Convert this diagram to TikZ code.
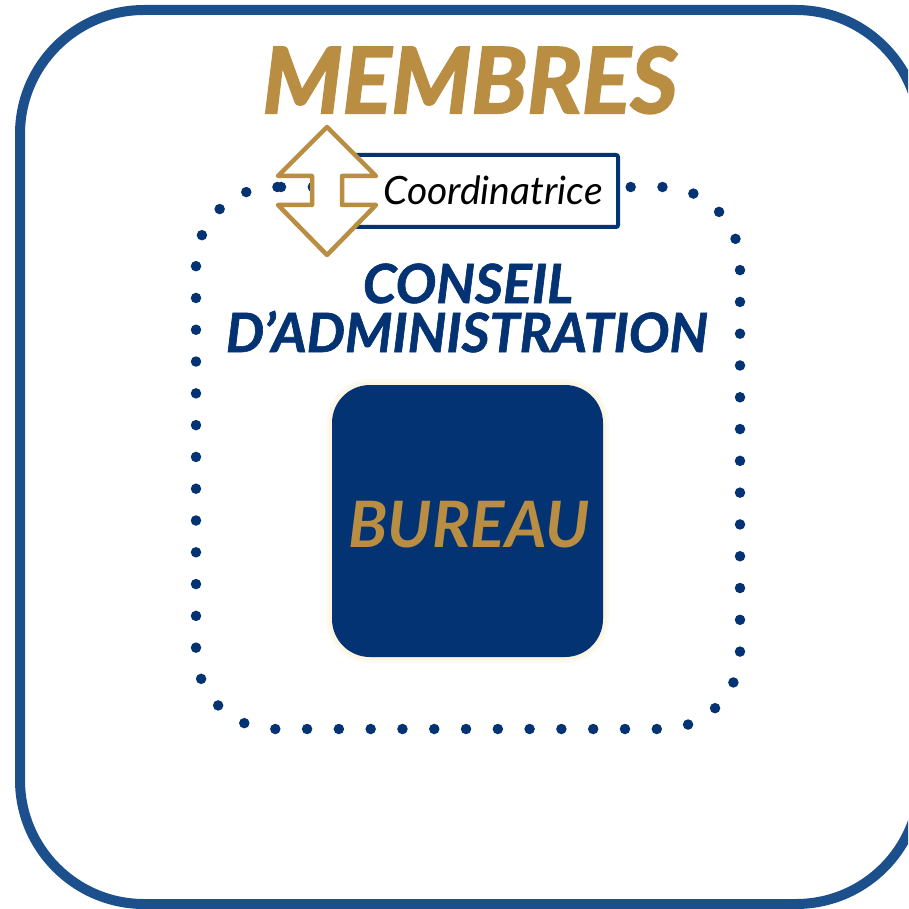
\documentclass[tikz,border=0pt]{standalone}
\usepackage{fontspec}
\setmainfont{Lato}
\newfontfamily\heavyfont{Lato}[FakeBold=2.2]
\newfontfamily\midheavyfont{Lato}[FakeBold=1.2]
\definecolor{gold}{RGB}{185,142,66}
\definecolor{navy}{RGB}{3,51,115}
\definecolor{frameblue}{RGB}{28,80,140}
\definecolor{cream}{RGB}{250,240,215}
\begin{document}
\begin{tikzpicture}[x=1pt,y=-1pt,
  outerframe/.style={draw=frameblue,line width=10pt,rounded corners=124pt},
  dotframe/.style={draw=navy,line width=10.5pt,line cap=round,dash pattern=on 0pt off 31.79pt,rounded corners=78pt},
  coordbox/.style={draw=navy,fill=white,line width=4pt,rounded corners=2pt},
  arrowshape/.style={draw=gold,fill=white,line width=4.5pt,line join=round},
  bureaubox/.style={fill=navy,rounded corners=38pt},
  titletext/.style={font=\fontsize{91}{91}\selectfont\heavyfont\bfseries\itshape,text=gold,anchor=base,inner sep=0pt},
  catext/.style={font=\fontsize{54}{54}\selectfont\midheavyfont\bfseries\itshape,text=navy,anchor=base,inner sep=0pt},
  burtext/.style={font=\fontsize{64}{64}\selectfont\bfseries\itshape,text=gold,anchor=base,inner sep=0pt},
  coordtext/.style={font=\fontsize{39}{39}\selectfont\itshape,text=black,anchor=base,inner sep=0pt}]
\useasboundingbox (0,0) rectangle (908,909);
\clip (0,0) rectangle (908,909);
% outer frame
\draw[outerframe] (20,10) rectangle (920,904);
% dotted frame of the board
\coordinate (dstart) at (281,187);
\draw[dotframe] (dstart) -- (740,187) -- (740,729) -- (196,729) -- (196,187) -- (dstart);
% coordinator box
\draw[coordbox] (330,155) rectangle (618,227);
\node[coordtext] (coord) at (493,205) {Coordinatrice};
% up-down arrow
\draw[arrowshape] (327,127) -- (376,176) -- (342,176) -- (342,205) -- (376,205) -- (327,255)
  -- (278,205) -- (312,205) -- (312,176) -- (278,176) -- cycle;
% titles
\node[titletext] (membres) at (470,113) {MEMBRES};
\node[catext] (conseil) at (468,303) {CONSEIL};
\node[catext] (admin) at (467,352) {D’ADMINISTRATION};
% bureau box with glow
\fill[cream,opacity=0.35,rounded corners=44pt] (326,379) rectangle (609,663);
\fill[cream,opacity=0.5,rounded corners=41pt] (329,382) rectangle (606,660);
\fill[bureaubox] (332,385) rectangle (603,657);
\node[burtext] (bureau) at (469,547) {BUREAU};
\end{tikzpicture}
\end{document}
